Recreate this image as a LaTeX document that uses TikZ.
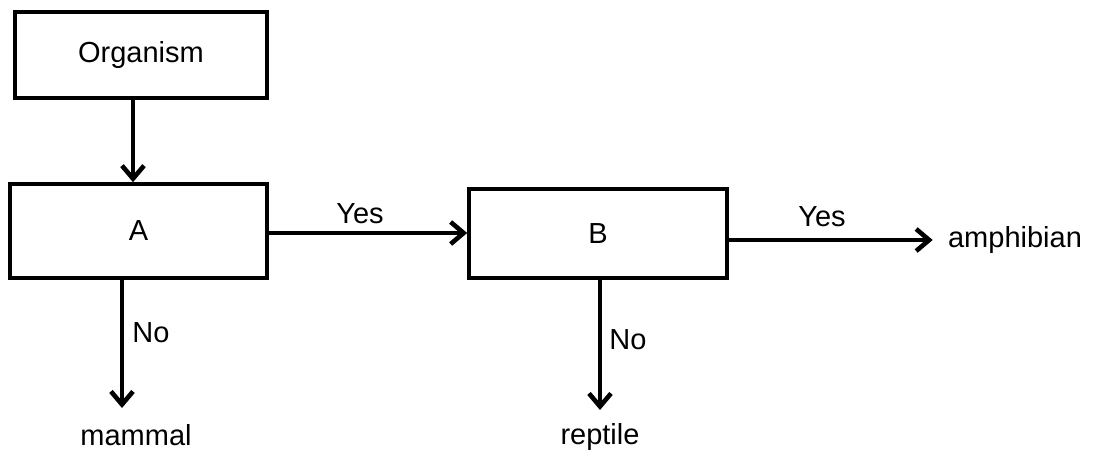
\documentclass[tikz,border=0pt]{standalone}
\usepackage{fontspec}
\setmainfont{Liberation Sans}
\usetikzlibrary{arrows.meta}

\begin{document}
\begin{tikzpicture}[x=0.5pt,y=-0.5pt,
    box/.style={draw,line width=1.8pt,inner sep=0pt,font=\fontsize{14.5}{17}\selectfont},
    lbl/.style={inner sep=0pt,font=\fontsize{14.5}{17}\selectfont},
    arr/.style={line width=2.3pt,-{Straight Barb[length=6.5pt,width=11pt]}}]
    \useasboundingbox (0,0) rectangle (1093,457);
    % boxes
    \node[box,minimum width=126pt,minimum height=43pt] (org) at (141,55) {Organism};
    \node[box,minimum width=128.5pt,minimum height=47pt] (A) at (138.5,231) {A};
    \node[box,minimum width=129pt,minimum height=44.5pt] (B) at (598,233.5) {B};
    % outcomes
    \node[lbl] (amph) at (1015,240) {amphibian};
    \node[lbl] (mam) at (136,435) {mammal};
    \node[lbl] (rep) at (600,437) {reptile};
    % answers
    \node[lbl] (yesA) at (360,214) {Yes};
    \node[lbl] (yesB) at (822,217) {Yes};
    \node[lbl] (noA) at (151,333) {No};
    \node[lbl] (noB) at (628,340) {No};
    % connectors
    \coordinate (oa) at (133,0);
    \coordinate (ab) at (0,233);
    \coordinate (amtip) at (122,408);
    \coordinate (brtip) at (600,410);
    \draw[arr] (org.south -| oa) -- (A.north -| oa);
    \draw[arr] (A.east |- ab) -- (B.west |- ab);
    \draw[arr] (B.east |- amph.west) -- ([xshift=-7.5pt]amph.west);
    \draw[arr] (A.south -| amtip) -- (amtip);
    \draw[arr] (B.south -| brtip) -- (brtip);
\end{tikzpicture}
\end{document}
